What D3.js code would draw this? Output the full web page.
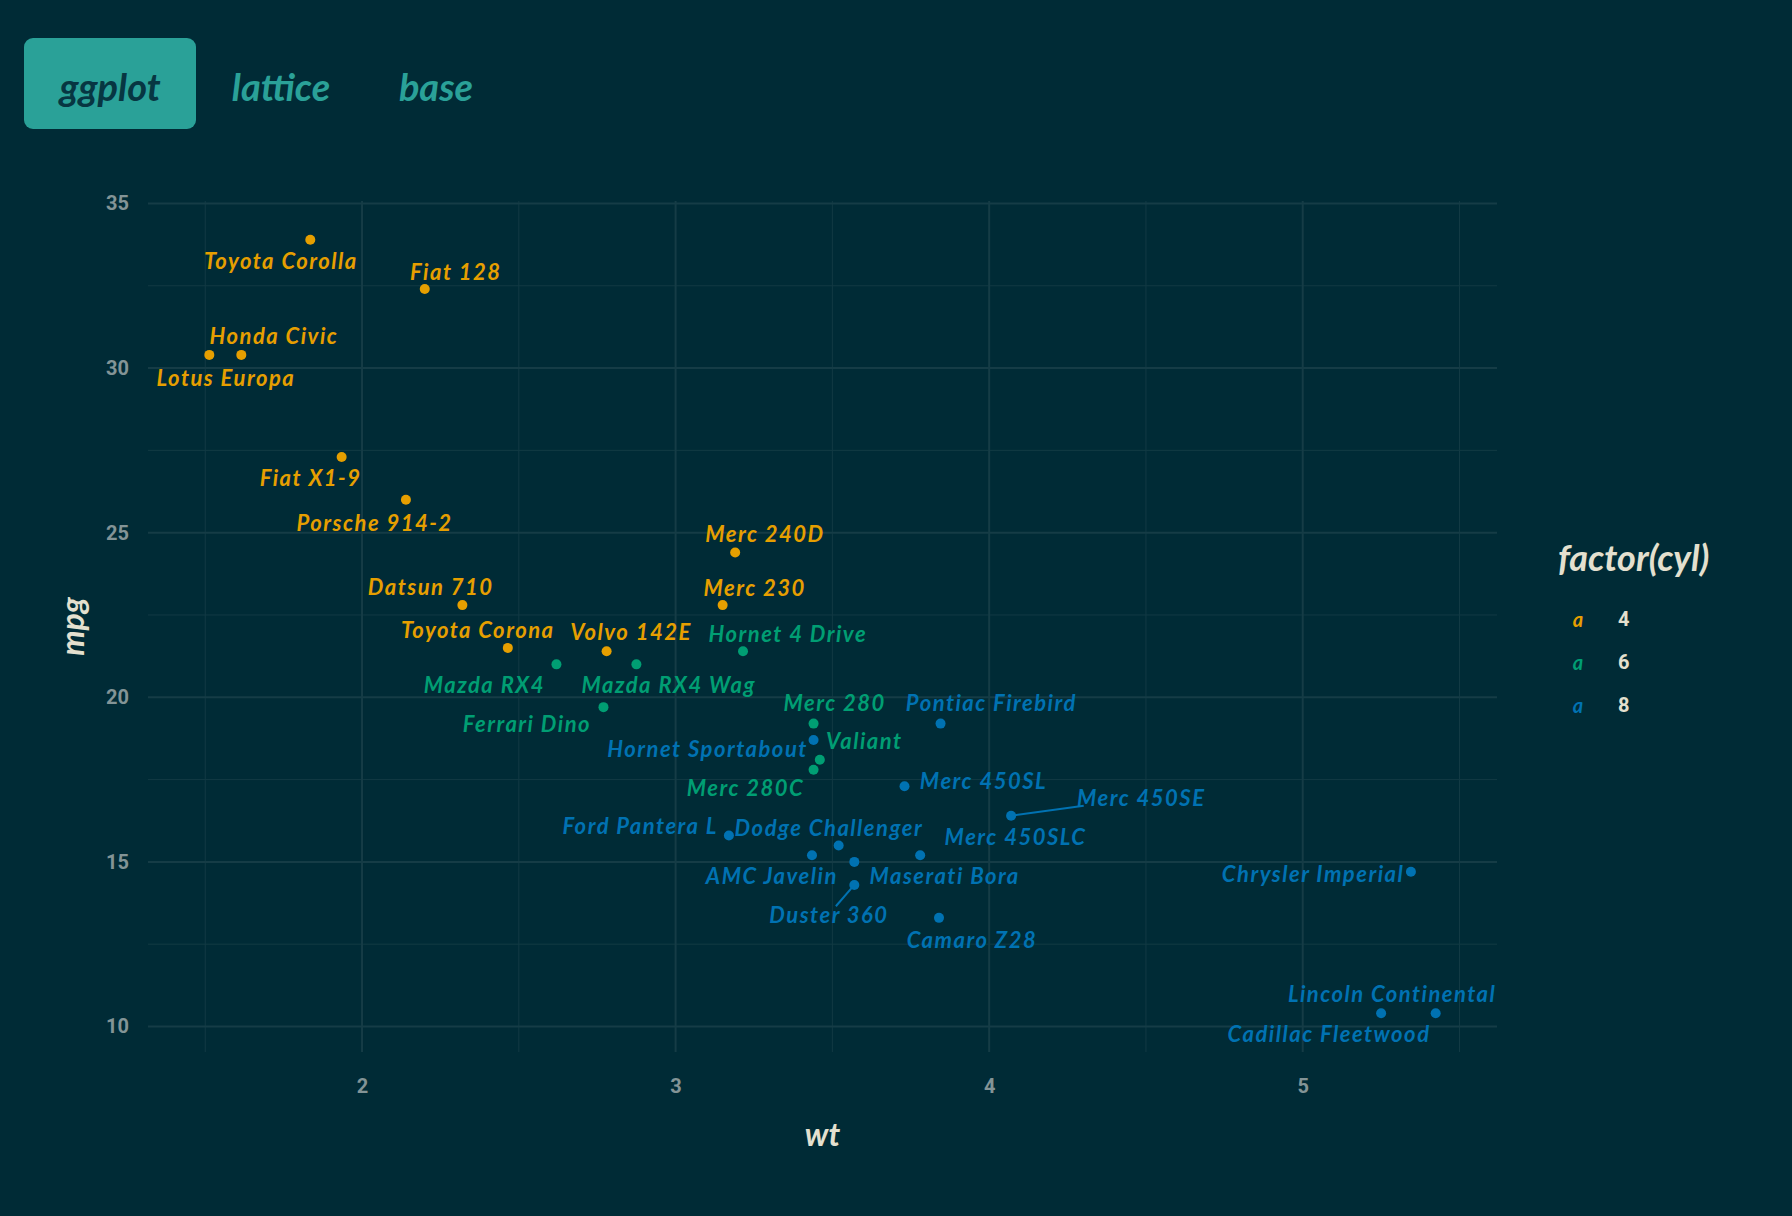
<!DOCTYPE html>
<html>
<head>
<meta charset="utf-8">
<script src="https://cdn.jsdelivr.net/npm/d3@7"></script>
<style>
  body { margin: 0; background: #002b36; }
  svg { display: block; }
</style>
</head>
<body>
<div id="chart"></div>
<script>
// mtcars, one entry per car
const cars = ["Mazda RX4","Mazda RX4 Wag","Datsun 710","Hornet 4 Drive","Hornet Sportabout","Valiant",
  "Duster 360","Merc 240D","Merc 230","Merc 280","Merc 280C","Merc 450SE","Merc 450SL","Merc 450SLC",
  "Cadillac Fleetwood","Lincoln Continental","Chrysler Imperial","Fiat 128","Honda Civic","Toyota Corolla",
  "Toyota Corona","Dodge Challenger","AMC Javelin","Camaro Z28","Pontiac Firebird","Fiat X1-9",
  "Porsche 914-2","Lotus Europa","Ford Pantera L","Ferrari Dino","Maserati Bora","Volvo 142E"];
const wt  = [2.620,2.875,2.320,3.215,3.440,3.460,3.570,3.190,3.150,3.440,3.440,4.070,3.730,3.780,
  5.250,5.424,5.345,2.200,1.615,1.835,2.465,3.520,3.435,3.840,3.845,1.935,2.140,1.513,3.170,2.770,3.570,2.780];
const mpg = [21.0,21.0,22.8,21.4,18.7,18.1,14.3,24.4,22.8,19.2,17.8,16.4,17.3,15.2,
  10.4,10.4,14.7,32.4,30.4,33.9,21.5,15.5,15.2,13.3,19.2,27.3,26.0,30.4,15.8,19.7,15.0,21.4];
const cyl = [6,6,4,6,8,6,8,4,4,6,6,8,8,8,8,8,8,4,4,4,4,8,8,8,8,4,4,4,8,6,8,4];
// where the repelled labels ended up, in data units (wt, mpg)
const labelWt  = [2.39,2.978,2.219,3.358,3.102,3.602,3.489,3.285,3.252,3.507,3.223,4.485,3.982,4.084,
  5.084,5.285,5.033,2.299,1.719,1.741,2.369,3.489,3.307,3.945,4.007,1.836,2.040,1.566,2.887,2.526,3.858,2.858];
const labelMpg = [20.39,20.39,23.38,21.95,18.44,18.69,13.41,24.98,23.34,19.83,17.26,16.95,17.47,15.77,
  9.79,11.01,14.66,32.93,30.99,33.28,22.06,16.05,14.59,12.64,19.83,26.68,25.32,29.70,16.12,19.21,14.59,21.99];
// labels that got a leader line in the picture
const withSegment = ["Merc 450SE", "Duster 360"];

const cylLevels = [4, 6, 8];
const cylColors = ["#E69F00", "#009E73", "#0072B2"];
const xTicks = [2, 3, 4, 5];
const yTicks = [10, 15, 20, 25, 30, 35];
const tabs = ["ggplot", "lattice", "base"];

const width = 1792, height = 1216;
const margin = ({ top: 201, right: 295, bottom: 164, left: 148 });
const scriptFont = "Lato, 'Open Sans', sans-serif";

const svg = d3.select("#chart").append("svg")
  .attr("width", width).attr("height", height)
  .style("background", "#002b36");

// tab strip at top
const tabX = d3.scalePoint().domain(tabs).range([110, 436]);
svg.append("rect")
  .attr("x", 24).attr("y", 38).attr("width", 172).attr("height", 91)
  .attr("rx", 9).attr("fill", "#2aa198");
svg.append("g").selectAll("text").data(tabs).join("text")
  .attr("x", d => d === "lattice" ? 281 : tabX(d))
  .attr("y", 86)
  .attr("text-anchor", "middle").attr("dominant-baseline", "central")
  .attr("font-family", scriptFont).attr("font-style", "italic").attr("font-weight", 700)
  .attr("font-size", 38)
  .attr("fill", (d, i) => i === 0 ? "#073642" : "#2aa198")
  .text(d => d);

// scales: ggplot default 5% expansion
const xExt = d3.extent(wt), yExt = d3.extent(mpg);
const xPad = (xExt[1] - xExt[0]) * 0.05, yPad = (yExt[1] - yExt[0]) * 0.05;
const x = d3.scaleLinear().domain([xExt[0] - xPad, xExt[1] + xPad]).range([margin.left, width - margin.right]);
const y = d3.scaleLinear().domain([yExt[0] - yPad, yExt[1] + yPad]).range([height - margin.bottom, margin.top]);
const color = d3.scaleOrdinal().domain(cylLevels).range(cylColors);

// grid: minor then major
const xMinor = [1.5, 2.5, 3.5, 4.5, 5.5], yMinor = [12.5, 17.5, 22.5, 27.5, 32.5];
const grid = svg.append("g");
grid.selectAll(".vminor").data(xMinor).join("line")
  .attr("x1", d => x(d)).attr("x2", d => x(d))
  .attr("y1", y.range()[0]).attr("y2", y.range()[1])
  .attr("stroke", "#123a44").attr("stroke-width", 1);
grid.selectAll(".hminor").data(yMinor).join("line")
  .attr("y1", d => y(d)).attr("y2", d => y(d))
  .attr("x1", x.range()[0]).attr("x2", x.range()[1])
  .attr("stroke", "#123a44").attr("stroke-width", 1);
grid.selectAll(".vmajor").data(xTicks).join("line")
  .attr("x1", d => x(d)).attr("x2", d => x(d))
  .attr("y1", y.range()[0]).attr("y2", y.range()[1])
  .attr("stroke", "#153c46").attr("stroke-width", 2);
grid.selectAll(".hmajor").data(yTicks).join("line")
  .attr("y1", d => y(d)).attr("y2", d => y(d))
  .attr("x1", x.range()[0]).attr("x2", x.range()[1])
  .attr("stroke", "#153c46").attr("stroke-width", 2);

// axes (labels only, no lines)
const xAxis = svg.append("g")
  .attr("transform", `translate(0,${height - margin.bottom})`)
  .call(d3.axisBottom(x).tickValues(xTicks).tickSize(0).tickPadding(27).tickFormat(d3.format("d")));
const yAxis = svg.append("g")
  .attr("transform", `translate(${margin.left},0)`)
  .call(d3.axisLeft(y).tickValues(yTicks).tickSize(0).tickPadding(19).tickFormat(d3.format("d")));
for (const ax of [xAxis, yAxis]) {
  ax.select(".domain").remove();
  ax.selectAll("text")
    .attr("fill", "#839496").attr("font-family", "Roboto, sans-serif")
    .attr("font-weight", 700).attr("font-size", 20);
}

// axis titles
svg.append("text")
  .attr("x", (x.range()[0] + x.range()[1]) / 2).attr("y", 1133)
  .attr("text-anchor", "middle").attr("dominant-baseline", "central")
  .attr("font-family", scriptFont).attr("font-style", "italic").attr("font-weight", 700)
  .attr("font-size", 32).attr("fill", "#e4e0cf").text("wt");
svg.append("text")
  .attr("transform", `translate(71,${(y.range()[0] + y.range()[1]) / 2}) rotate(-90)`)
  .attr("text-anchor", "middle").attr("dominant-baseline", "central")
  .attr("font-family", scriptFont).attr("font-style", "italic").attr("font-weight", 700)
  .attr("font-size", 32).attr("fill", "#e4e0cf").text("mpg");

// points
const rows = cars.map((name, i) => ({ name, wt: wt[i], mpg: mpg[i], cyl: cyl[i], lx: labelWt[i], ly: labelMpg[i] }));

const segs = svg.append("g");
svg.append("g").selectAll("circle").data(rows).join("circle")
  .attr("cx", d => x(d.wt)).attr("cy", d => y(d.mpg))
  .attr("r", 5).attr("fill", d => color(d.cyl));

// labels
const labels = svg.append("g").selectAll("text").data(rows).join("text")
  .attr("x", d => x(d.lx)).attr("y", d => y(d.ly))
  .attr("text-anchor", "middle").attr("dominant-baseline", "central")
  .attr("font-family", scriptFont).attr("font-style", "italic").attr("font-weight", 700)
  .attr("font-size", 22).attr("letter-spacing", 1.5).attr("fill", d => color(d.cyl))
  .text(d => d.name);

// leader lines: from the point toward the label centre, stopped at a tight text box
labels.filter(d => withSegment.includes(d.name)).each(function(d) {
  const b = this.getBBox();
  const px = x(d.wt), py = y(d.mpg);
  const cx = x(d.lx), cy = y(d.ly);
  const hw = b.width / 2, hh = 8;
  const dx = cx - px, dy = cy - py;
  const tx = dx === 0 ? 0 : Math.max(0, 1 - hw / Math.abs(dx));
  const ty = dy === 0 ? 0 : Math.max(0, 1 - hh / Math.abs(dy));
  const t = Math.max(tx, ty);
  segs.append("line")
    .attr("x1", px).attr("y1", py).attr("x2", px + dx * t).attr("y2", py + dy * t)
    .attr("stroke", color(d.cyl)).attr("stroke-width", 2);
});

// legend
const legend = svg.append("g");
legend.append("text")
  .attr("x", 1558).attr("y", 557)
  .attr("dominant-baseline", "central")
  .attr("font-family", scriptFont).attr("font-style", "italic").attr("font-weight", 700)
  .attr("font-size", 36).attr("fill", "#e4e0cf").text("factor(cyl)");
const legY = d3.scalePoint().domain(cylLevels).range([619, 705]);
legend.selectAll(".key").data(cylLevels).join("text")
  .attr("x", 1578).attr("y", d => legY(d))
  .attr("text-anchor", "middle").attr("dominant-baseline", "central")
  .attr("font-family", scriptFont).attr("font-style", "italic").attr("font-weight", 700)
  .attr("font-size", 20).attr("fill", d => color(d)).text("a");
legend.selectAll(".lab").data(cylLevels).join("text")
  .attr("x", 1618).attr("y", d => legY(d))
  .attr("dominant-baseline", "central")
  .attr("font-family", "Roboto, sans-serif").attr("font-weight", 700)
  .attr("font-size", 20).attr("fill", "#e4e0cf").text(d => d);
</script>
</body>
</html>
